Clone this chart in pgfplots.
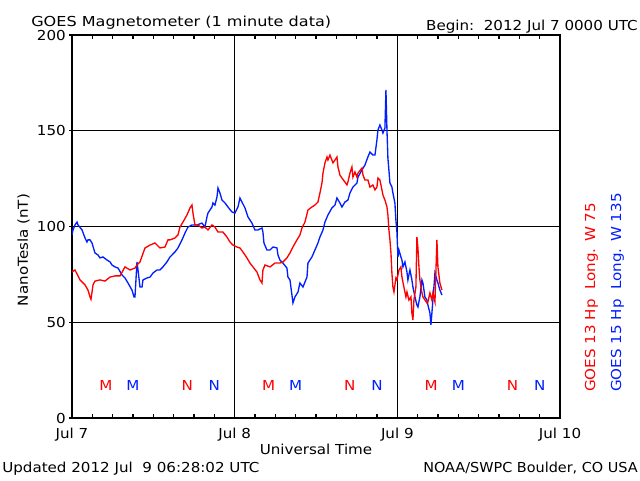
\documentclass[border=0pt]{standalone}
\usepackage{fontspec}
\setmainfont{DejaVu Sans}[FakeStretch=1.1]
\usepackage{pgfplots}
\pgfplotsset{compat=1.18}
\newcommand\F{\fontsize{10.3}{12}\selectfont}
\definecolor{gred}{RGB}{255,0,0}
\definecolor{gblue}{RGB}{0,30,255}
\begin{document}
\begin{tikzpicture}[font=\F]
\path[use as bounding box] (-54pt,-46.5pt) rectangle (426pt,313.5pt);
\begin{axis}[
  at={(0,0)}, anchor=south west,
  scale only axis, width=366pt, height=287.25pt,
  xmin=0, xmax=72, ymin=0, ymax=200,
  xtick={0,24,48,72}, xticklabels={Jul 7,Jul 8,Jul 9,Jul 10},
  minor xtick={3,6,9,12,15,18,21,27,30,33,36,39,42,45,51,54,57,60,63,66,69},
  ytick={0,50,100,150,200},
  xtick pos=both, ytick pos=left,
  tick align=inside, minor tick length=3pt, major tick length=-2.5pt,
  major x tick style={draw=none},
  every tick/.style={black, line width=0.9pt},
  xmajorgrids, ymajorgrids,
  grid style={black, line width=1pt},
  axis line style={black, line width=1pt},
  /pgf/number format/assume math mode=true,
  every tick label/.append style={font=\F},
  xticklabel style={anchor=base, yshift=-15pt, inner sep=0pt},
  yticklabel style={anchor=east, inner sep=0pt, xshift=-4.5pt},
  clip=true,
]
\addplot[gblue, line width=1pt] coordinates {
(0,95.6)(0.15,98.2)(0.44,100.8)(0.74,102.3)(0.89,100.8)(1.48,98.2)(1.92,94.0)(2.21,91.9)(2.36,93.0)(2.66,93.0)(2.95,91.4)(3.39,86.2)(3.84,85.1)(4.13,83.6)(4.57,84.1)(5.16,82.5)(5.61,81.5)(5.90,79.9)(6.34,78.9)(6.79,78.3)(7.38,74.7)(7.82,73.1)(8.26,70.5)(8.85,66.8)(9.15,63.2)(9.29,63.2)(9.59,81.5)(9.74,77.3)(10.03,68.4)(10.33,68.4)(10.47,72.1)(11.06,73.1)(11.51,73.6)(11.95,75.7)(12.54,77.3)(12.98,77.3)(13.42,78.9)(14.01,81.5)(14.46,84.1)(15.19,86.7)(15.64,88.8)(16.23,93.0)(16.67,96.6)(17.11,99.7)(17.70,100.8)(18.44,100.8)(19.18,101.8)(19.62,99.7)(19.91,105.0)(20.06,107.0)(20.65,110.2)(20.80,112.3)(21.09,111.2)(21.39,115.4)(21.54,120.1)(21.83,117.5)(22.13,113.8)(22.57,112.3)(23.01,110.2)(23.60,107.6)(24.04,107.0)(24.49,110.2)(24.78,114.9)(25.08,112.8)(25.52,109.7)(25.96,105.0)(26.55,101.8)(26.99,98.2)(27.44,98.2)(28.03,99.2)(28.17,97.1)(28.32,91.4)(28.76,87.7)(29.21,87.7)(29.65,89.3)(30.24,88.8)(30.39,85.1)(30.68,82.5)(31.12,80.9)(31.71,78.3)(31.86,73.6)(32.16,72.1)(32.45,64.2)(32.60,60.1)(32.89,63.2)(33.34,65.8)(33.63,70.5)(34.08,68.4)(34.67,73.6)(34.81,80.9)(35.40,84.1)(35.84,87.7)(36.29,91.4)(36.58,94.5)(37.03,98.2)(37.32,102.3)(37.76,106.0)(38.35,109.7)(38.80,111.2)(39.09,114.9)(39.53,112.3)(39.83,110.2)(40.27,112.8)(40.71,113.8)(41.01,117.5)(41.45,120.6)(42.04,122.7)(42.19,125.8)(42.78,129.5)(43.22,132.1)(43.66,136.3)(43.96,138.9)(44.40,137.3)(44.70,137.3)(44.99,145.2)(45.14,150.4)(45.43,153.0)(45.73,150.4)(45.88,148.8)(46.17,151.4)(46.32,171.3)(46.47,150.4)(46.61,135.8)(46.91,122.7)(47.20,120.6)(47.35,117.5)(47.64,112.3)(47.79,103.4)(47.94,97.1)(48.09,84.1)(48.24,87.7)(48.53,84.1)(48.68,82.5)(48.83,78.9)(49.12,81.5)(49.42,76.2)(49.56,72.1)(49.86,77.3)(50.15,72.1)(50.30,68.4)(50.60,63.2)(50.89,59.0)(51.04,58.0)(51.33,63.2)(51.63,72.1)(51.78,70.5)(52.07,63.2)(52.37,61.6)(52.51,59.0)(52.81,54.8)(52.96,48.6)(53.10,54.8)(53.40,68.4)(53.55,75.7)(53.84,72.1)(53.99,70.5)(54.28,66.8)(54.58,64.2)
};
\addplot[gred, line width=1pt] coordinates {
(0,76.2)(0.44,77.3)(1.18,72.1)(1.92,69.5)(2.36,66.8)(2.66,63.2)(2.80,62.0)(3.10,69.5)(3.39,71.5)(4.13,72.1)(4.87,71.5)(5.61,73.6)(6.34,74.2)(7.08,74.2)(7.82,78.9)(8.56,77.3)(9.29,78.3)(9.59,79.9)(10.03,81.5)(10.77,88.8)(11.51,90.3)(12.24,91.4)(12.98,88.8)(13.72,89.3)(14.16,93.0)(14.46,93.0)(15.19,94.0)(15.64,95.6)(15.93,99.7)(16.37,102.3)(16.96,106.0)(17.41,109.7)(17.70,111.2)(17.85,107.0)(18.14,100.8)(18.59,100.8)(19.18,99.2)(19.62,99.7)(20.06,98.2)(20.65,100.8)(21.09,99.7)(21.54,97.1)(22.27,97.1)(22.86,94.5)(23.31,91.9)(23.75,90.3)(24.34,89.3)(24.78,88.8)(25.22,86.7)(25.81,83.6)(26.26,80.9)(26.70,78.9)(27.29,76.2)(27.73,72.1)(28.03,70.5)(28.17,77.3)(28.47,79.9)(29.21,78.9)(29.94,80.9)(30.68,80.9)(31.12,81.5)(31.71,83.6)(32.16,86.2)(32.60,89.3)(33.19,93.0)(33.63,95.6)(33.93,99.2)(34.37,102.3)(34.81,108.6)(35.40,110.2)(35.84,111.2)(36.29,112.8)(36.58,117.5)(36.88,122.7)(37.03,127.9)(37.32,133.2)(37.62,136.3)(37.76,134.7)(38.06,137.3)(38.35,134.7)(38.50,133.2)(38.80,134.7)(39.09,136.3)(39.24,131.1)(39.53,126.9)(39.83,125.3)(40.27,123.2)(40.57,121.7)(40.71,123.2)(41.01,127.9)(41.30,131.1)(41.45,125.8)(41.75,128.5)(42.04,125.8)(42.19,127.9)(42.78,130.5)(42.93,126.9)(43.22,124.3)(43.66,124.3)(43.96,120.6)(44.40,121.7)(44.70,119.1)(44.99,120.6)(45.14,125.3)(45.43,124.3)(45.73,119.1)(45.88,116.4)(46.17,113.8)(46.47,110.2)(46.61,106.0)(46.76,98.2)(46.91,93.0)(47.06,86.2)(47.20,75.7)(47.35,68.4)(47.50,65.8)(47.79,73.1)(47.94,72.1)(48.24,77.3)(48.53,78.9)(48.68,73.6)(48.97,68.4)(49.27,63.2)(49.42,65.8)(49.71,61.6)(50.01,63.2)(50.15,54.8)(50.30,51.2)(50.45,61.6)(50.74,68.4)(50.89,94.5)(51.04,88.8)(51.19,78.9)(51.33,72.1)(51.63,65.3)(51.78,63.2)(52.07,61.6)(52.37,60.1)(52.51,60.6)(52.81,65.3)(53.10,61.6)(53.25,65.3)(53.55,60.6)(53.84,93.0)(53.99,78.9)(54.28,70.5)(54.58,66.8)
};
\addplot[only marks, mark=none, nodes near coords={M}, every node near coord/.style={text=gred, anchor=center, inner sep=0pt}] coordinates {(5,17.2)(29,17.2)(53,17.2)};
\addplot[only marks, mark=none, nodes near coords={N}, every node near coord/.style={text=gred, anchor=center, inner sep=0pt}] coordinates {(17,17.2)(41,17.2)(65,17.2)};
\addplot[only marks, mark=none, nodes near coords={M}, every node near coord/.style={text=gblue, anchor=center, inner sep=0pt}] coordinates {(9,17.2)(33,17.2)(57,17.2)};
\addplot[only marks, mark=none, nodes near coords={N}, every node near coord/.style={text=gblue, anchor=center, inner sep=0pt}] coordinates {(21,17.2)(45,17.2)(69,17.2)};
\end{axis}
\node[anchor=base west, inner sep=0pt] at (-30.75pt,294pt) {\addfontfeature{FakeStretch=1.17}GOES Magnetometer (1 minute data)};
\node[anchor=base east, inner sep=0pt] at (424.5pt,291pt) {Begin:\ \ 2012 Jul 7 0000 UTC};
\node[anchor=base, inner sep=0pt] at (183pt,-27pt) {Universal Time};
\node[anchor=base west, inner sep=0pt] at (-52.5pt,-40.5pt) {Updated 2012 Jul\ \ 9 06:28:02 UTC};
\node[anchor=base east, inner sep=0pt] at (424.5pt,-40.5pt) {\addfontfeature{FakeStretch=1.05}NOAA/SWPC Boulder, CO USA};
\node[anchor=base, rotate=90, inner sep=0pt] at (-33pt,126pt) {NanoTesla (nT)};
\node[anchor=base west, rotate=90, inner sep=0pt, text=gred] at (392.25pt,19.5pt) {GOES 13 Hp\ \ Long. W 75};
\node[anchor=base west, rotate=90, inner sep=0pt, text=gblue] at (411.75pt,19.5pt) {GOES 15 Hp\ \ Long. W 135};
\end{tikzpicture}
\end{document}
